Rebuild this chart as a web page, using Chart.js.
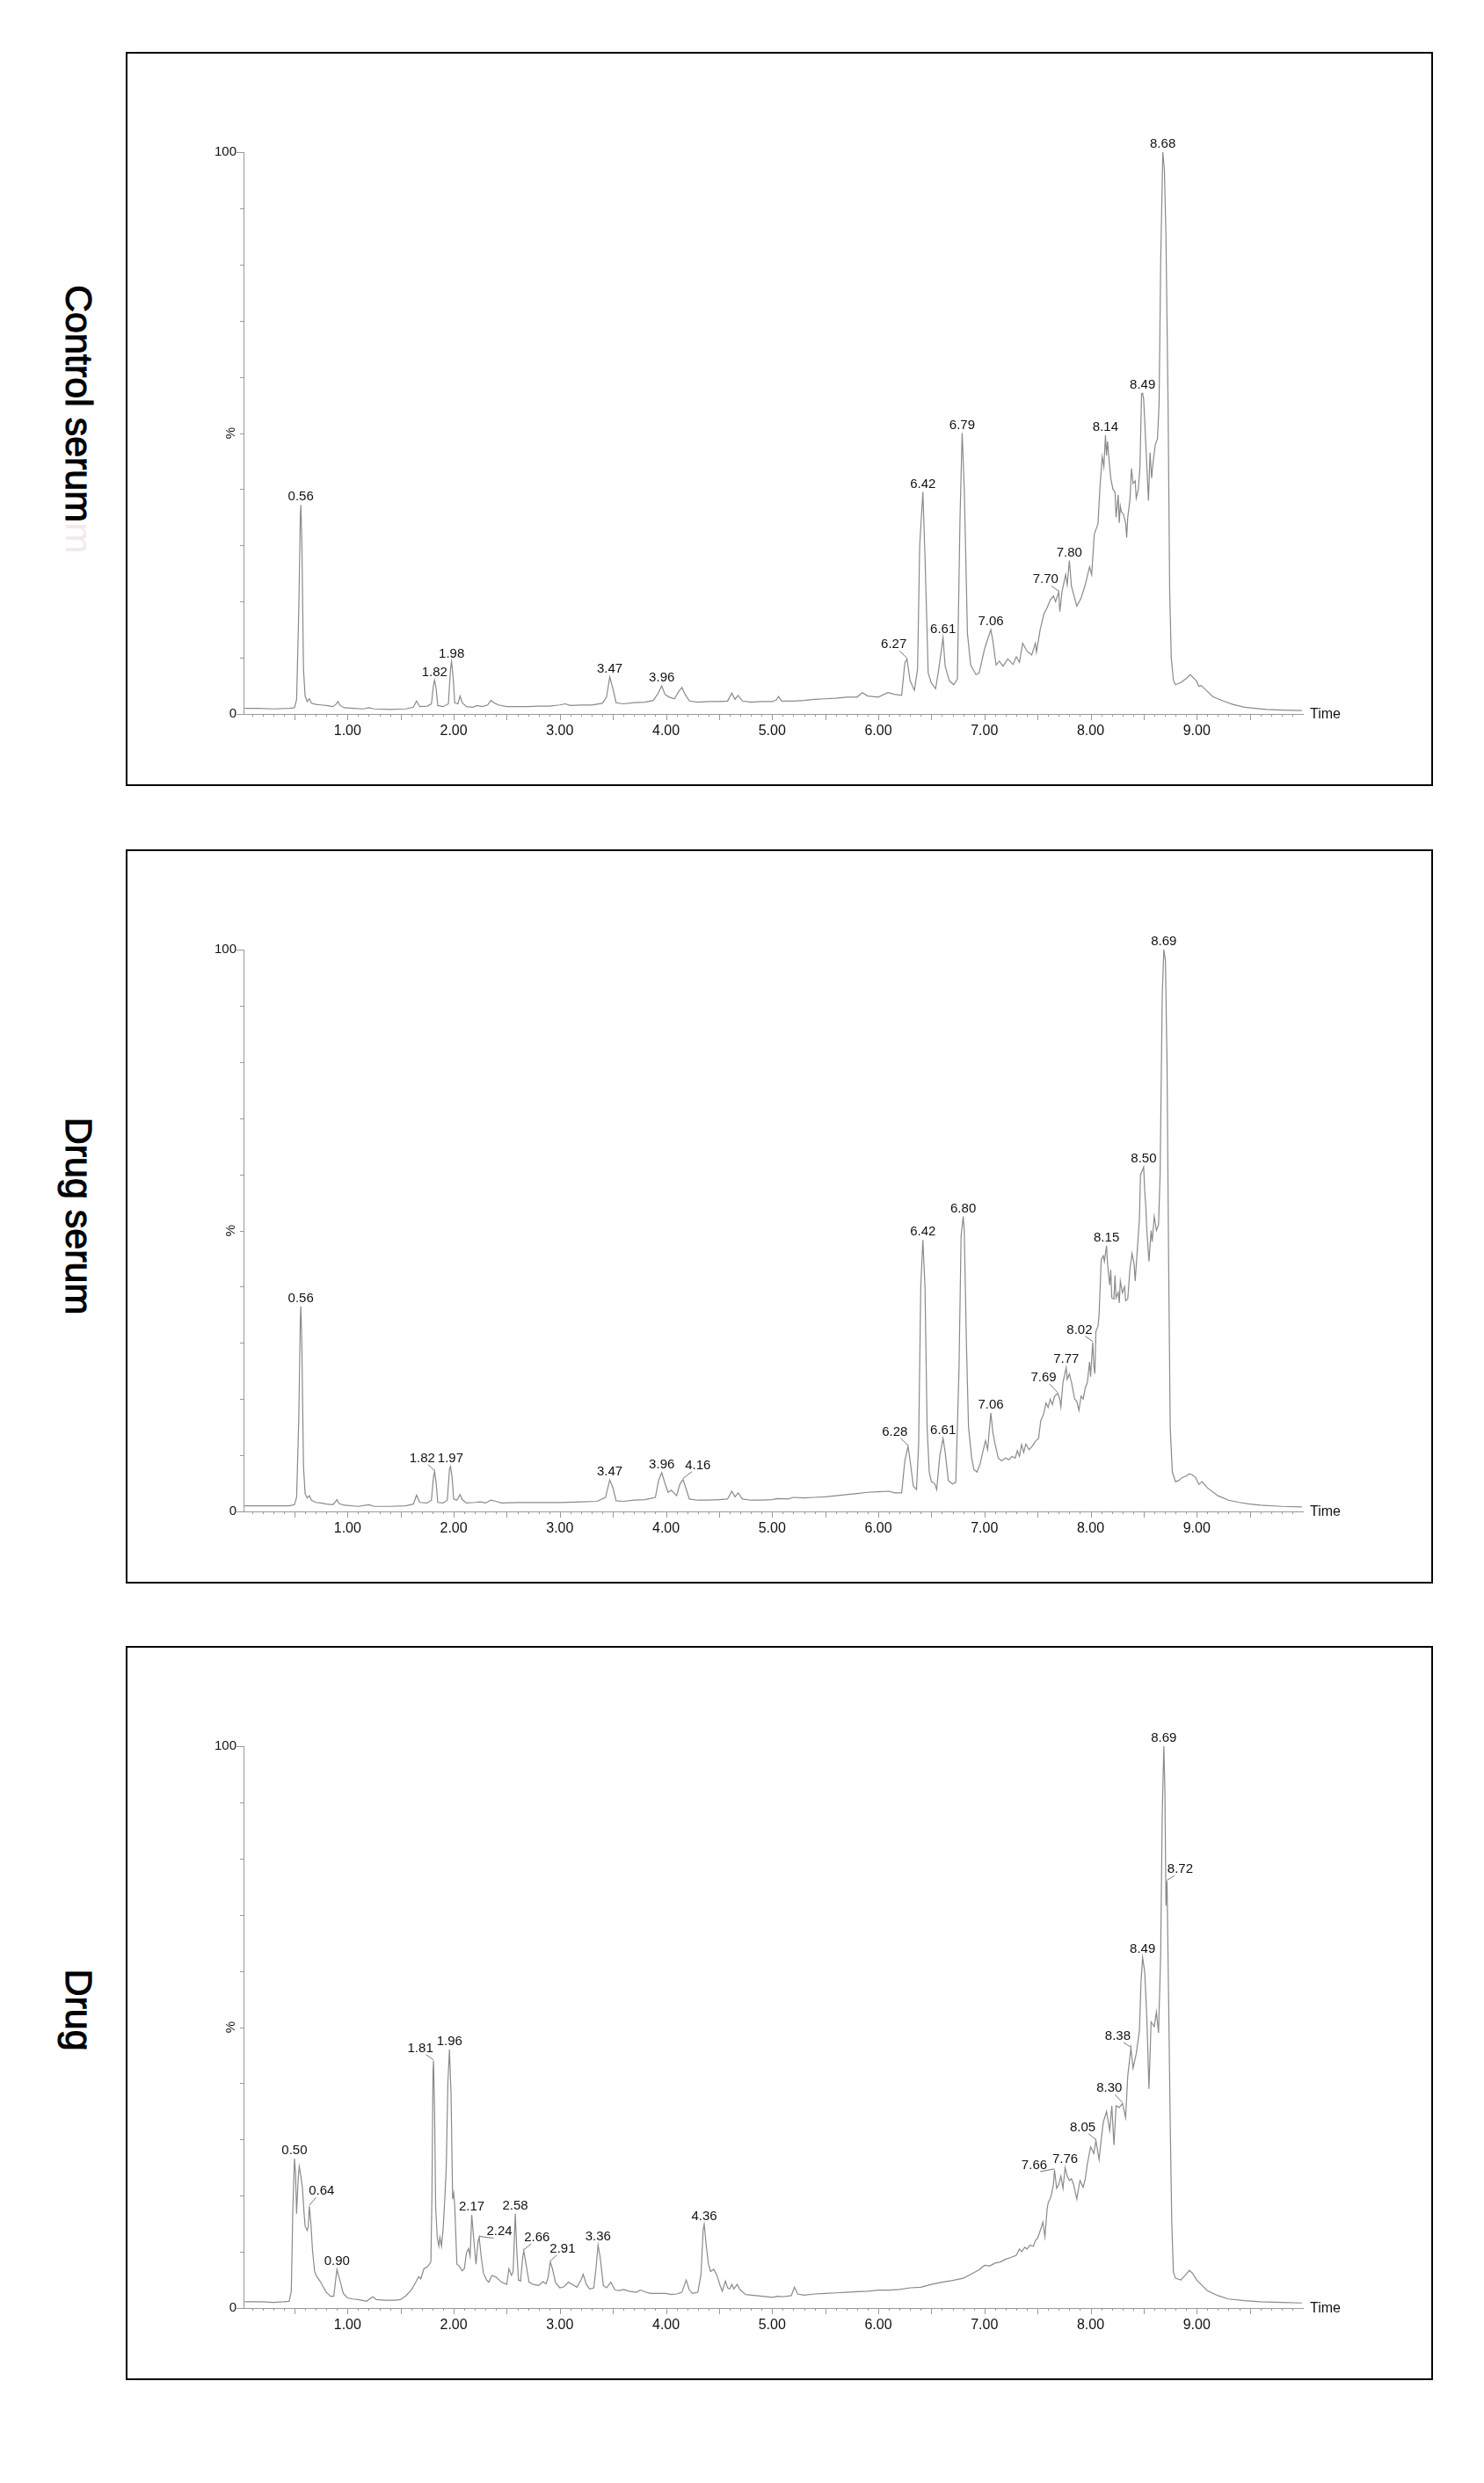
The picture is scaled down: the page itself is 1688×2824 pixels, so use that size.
<!DOCTYPE html>
<html>
<head>
<meta charset="utf-8">
<script src="https://cdn.jsdelivr.net/npm/chart.js@4.4.0/dist/chart.umd.min.js"></script>
<style>
  body { margin: 0; background: #fff; width: 1688px; height: 2824px; position: relative; overflow: hidden;
         font-family: "Liberation Sans", Arial, sans-serif; }
  .box { position: absolute; left: 143px; width: 1483px; height: 831px; border: 2px solid #000; }
  .box canvas { display: block; }
  .side { position: absolute; left: 89px; font-size: 43px; line-height: 1; white-space: nowrap; color: #000;
          -webkit-text-stroke: 1.1px #000; transform: translate(-50%, -50%) rotate(90deg); }
  .ghost { color: #f3e9ea; -webkit-text-stroke: 0; }
</style>
</head>
<body>
<div class="side" style="top:477px">Control serum<span class="ghost">m</span></div>
<div class="side" style="top:1383px">Drug serum</div>
<div class="side" style="top:2286px">Drug</div>

<div class="box" style="top:59px"><canvas id="c1" width="1483" height="831"></canvas></div>
<div class="box" style="top:966px"><canvas id="c2" width="1483" height="831"></canvas></div>
<div class="box" style="top:1872px"><canvas id="c3" width="1483" height="831"></canvas></div>

<script>
// retention time (min), relative intensity (%)
const controlSerum = [[0.03,1.0],[0.15,1.0],[0.3,0.9],[0.45,1.0],[0.5,1.1],[0.52,2.5],[0.54,18],[0.555,35],[0.56,37.2],[0.57,30],[0.585,8],[0.6,3.2],[0.62,2.2],[0.64,2.7],[0.66,1.9],[0.7,1.7],[0.75,1.6],[0.8,1.5],[0.86,1.3],[0.89,1.7],[0.91,2.2],[0.93,1.5],[0.97,1.1],[1.05,1.0],[1.15,0.9],[1.2,1.1],[1.25,0.9],[1.4,0.8],[1.55,0.9],[1.62,1.2],[1.65,2.3],[1.68,1.3],[1.75,1.4],[1.79,1.8],[1.81,5.2],[1.82,6.0],[1.835,4.5],[1.85,1.5],[1.9,1.3],[1.95,1.8],[1.97,8.0],[1.98,9.3],[1.995,6.5],[2.01,2.0],[2.04,1.8],[2.06,3.2],[2.08,2.0],[2.12,1.3],[2.18,1.2],[2.22,1.5],[2.27,1.3],[2.32,1.6],[2.35,2.4],[2.38,2.0],[2.42,1.6],[2.5,1.3],[2.6,1.3],[2.7,1.3],[2.8,1.4],[2.9,1.4],[3.0,1.6],[3.05,1.8],[3.1,1.5],[3.2,1.6],[3.3,1.6],[3.4,1.9],[3.44,3.0],[3.47,6.6],[3.5,4.5],[3.53,2.0],[3.6,1.8],[3.7,2.0],[3.8,2.1],[3.88,2.4],[3.93,3.8],[3.96,5.0],[3.99,3.5],[4.03,3.0],[4.08,2.7],[4.12,4.0],[4.15,4.7],[4.18,3.5],[4.22,2.3],[4.3,2.1],[4.4,2.2],[4.5,2.2],[4.58,2.3],[4.62,3.7],[4.65,2.6],[4.68,3.3],[4.72,2.3],[4.8,2.1],[4.9,2.2],[5.0,2.2],[5.04,2.5],[5.06,3.1],[5.09,2.3],[5.2,2.3],[5.3,2.4],[5.4,2.6],[5.5,2.7],[5.6,2.8],[5.7,3.0],[5.8,3.0],[5.85,3.8],[5.9,3.2],[6.0,3.0],[6.09,3.8],[6.15,3.5],[6.22,3.3],[6.25,9.1],[6.27,9.8],[6.3,5.9],[6.34,4.2],[6.37,8],[6.39,30],[6.42,39.5],[6.44,28],[6.47,7.3],[6.5,5.5],[6.54,4.5],[6.57,8],[6.61,13.6],[6.63,8.5],[6.67,5.9],[6.71,5.2],[6.745,6.2],[6.77,35],[6.79,50],[6.81,40],[6.84,14.3],[6.87,8.7],[6.92,7.0],[6.95,7.3],[7.0,11.5],[7.06,15],[7.08,12.9],[7.11,8.7],[7.14,9.4],[7.175,8.5],[7.22,9.8],[7.27,8.8],[7.3,10.2],[7.33,9.2],[7.36,12.6],[7.4,11.2],[7.445,10.5],[7.48,12.6],[7.49,11],[7.525,15],[7.56,17.8],[7.59,18.9],[7.62,20.3],[7.65,21],[7.67,20],[7.7,21.7],[7.71,18.2],[7.73,21.7],[7.765,24.8],[7.78,23],[7.8,27.3],[7.82,22.7],[7.84,21.3],[7.87,19.2],[7.91,20.6],[7.95,23],[7.99,26.2],[8.01,24.8],[8.035,32],[8.07,33.9],[8.09,40.9],[8.11,45.8],[8.125,44],[8.14,49.6],[8.15,46],[8.16,48.5],[8.17,46],[8.19,42],[8.21,40],[8.23,39.5],[8.24,35],[8.26,39],[8.27,34],[8.28,37],[8.29,36],[8.31,35.5],[8.33,34],[8.34,31.4],[8.35,35],[8.37,38],[8.385,43.7],[8.4,41],[8.42,41.5],[8.43,38.4],[8.45,40],[8.465,44],[8.48,57],[8.49,57.1],[8.5,56],[8.52,48],[8.545,38],[8.56,46.5],[8.575,42],[8.59,45],[8.61,48],[8.63,49],[8.645,55],[8.66,80],[8.68,100],[8.695,97],[8.71,85],[8.73,55],[8.745,22],[8.76,10],[8.78,6],[8.8,5.2],[8.85,5.6],[8.9,6.3],[8.94,7.0],[8.97,6.4],[9.0,5.8],[9.02,4.9],[9.04,5.1],[9.1,4.0],[9.15,3.1],[9.25,2.3],[9.34,1.7],[9.45,1.2],[9.55,1.0],[9.66,0.8],[9.8,0.7],[9.99,0.6]];

const drugSerum = [[0.03,1.0],[0.15,1.0],[0.3,1.0],[0.45,1.0],[0.5,1.2],[0.52,2.5],[0.54,16],[0.555,34],[0.56,36.5],[0.57,29],[0.585,8],[0.6,3.2],[0.62,2.4],[0.64,2.8],[0.66,2.0],[0.7,1.6],[0.75,1.5],[0.8,1.3],[0.86,1.2],[0.88,1.6],[0.9,2.1],[0.92,1.4],[0.97,1.1],[1.1,0.9],[1.2,1.2],[1.25,0.9],[1.4,0.9],[1.55,1.0],[1.62,1.3],[1.65,2.9],[1.68,1.6],[1.75,1.5],[1.79,2.0],[1.81,6.2],[1.82,7.1],[1.835,5.0],[1.85,1.6],[1.9,1.5],[1.94,2.0],[1.96,7.5],[1.97,8.0],[1.985,6.0],[2.0,2.2],[2.03,2.0],[2.06,3.0],[2.08,2.1],[2.12,1.5],[2.2,1.6],[2.25,1.7],[2.3,1.5],[2.35,2.0],[2.4,1.8],[2.45,1.5],[2.6,1.6],[2.8,1.6],[3.0,1.6],[3.2,1.7],[3.35,1.8],[3.43,2.5],[3.47,5.6],[3.5,4.2],[3.53,1.9],[3.6,1.8],[3.7,2.0],[3.8,2.1],[3.85,2.3],[3.9,2.5],[3.93,5.5],[3.96,6.9],[3.99,5.0],[4.02,3.4],[4.05,3.8],[4.08,3.2],[4.1,2.8],[4.13,4.8],[4.16,5.7],[4.19,4.0],[4.22,2.2],[4.3,2.0],[4.4,2.0],[4.5,2.1],[4.58,2.2],[4.62,3.6],[4.65,2.6],[4.68,3.3],[4.72,2.2],[4.8,2.0],[4.9,2.0],[5.0,2.1],[5.05,2.3],[5.15,2.2],[5.2,2.5],[5.3,2.4],[5.4,2.5],[5.5,2.6],[5.6,2.8],[5.7,3.0],[5.8,3.2],[5.9,3.4],[6.0,3.5],[6.1,3.6],[6.15,3.3],[6.22,3.3],[6.25,9],[6.28,11.6],[6.3,9],[6.33,4.5],[6.36,3.9],[6.38,12],[6.4,40],[6.42,48.3],[6.44,40],[6.46,15],[6.48,7],[6.5,5.3],[6.53,5.0],[6.55,3.9],[6.58,10],[6.61,13],[6.63,10.5],[6.66,5.5],[6.7,4.9],[6.73,5.2],[6.76,25],[6.78,49],[6.8,52.5],[6.81,50],[6.83,30],[6.85,15],[6.88,9.5],[6.9,7.5],[6.93,7.0],[6.96,8.5],[6.99,11],[7.01,12.6],[7.03,11],[7.06,17.5],[7.08,14],[7.1,12],[7.13,9.5],[7.16,9.0],[7.2,9.5],[7.23,9.2],[7.26,9.8],[7.29,9.5],[7.31,10.8],[7.33,9.8],[7.35,11.9],[7.37,10.5],[7.39,12],[7.42,11],[7.45,11.6],[7.48,12.5],[7.51,13],[7.53,16.1],[7.56,17.5],[7.58,19.3],[7.6,18.5],[7.62,20],[7.64,19],[7.66,20.5],[7.69,21],[7.71,20],[7.72,18.6],[7.74,23],[7.77,25.6],[7.78,23.5],[7.8,24.5],[7.82,23],[7.85,20],[7.87,19.6],[7.89,18],[7.91,20.5],[7.93,20],[7.95,22],[7.97,23],[7.99,26.6],[8.0,24],[8.02,30.1],[8.03,26],[8.04,24.5],[8.05,32],[8.07,33],[8.08,35],[8.1,44.8],[8.12,45.5],[8.13,44.5],[8.15,47.3],[8.16,44],[8.18,40.3],[8.19,43],[8.2,38],[8.22,37.8],[8.23,42],[8.24,38],[8.26,39],[8.27,37.1],[8.28,41],[8.3,38.9],[8.32,40],[8.33,37.5],[8.35,37.8],[8.37,43],[8.39,45.9],[8.41,44],[8.42,41],[8.44,46.6],[8.46,52],[8.47,59.9],[8.5,61.3],[8.51,57],[8.52,54.3],[8.53,50],[8.55,44.5],[8.57,50],[8.58,48],[8.6,52.5],[8.62,50],[8.64,51],[8.655,60],[8.675,92],[8.69,100],[8.705,98],[8.72,80],[8.735,45],[8.75,15],[8.77,7],[8.8,5.3],[8.83,5.5],[8.86,6.0],[8.9,6.3],[8.93,6.7],[8.96,6.5],[8.99,6.0],[9.02,4.8],[9.05,5.3],[9.1,4.2],[9.2,2.8],[9.3,2.0],[9.4,1.6],[9.5,1.3],[9.6,1.1],[9.8,0.9],[9.99,0.8]];

const drug = [[0.03,1.1],[0.2,1.1],[0.3,1.0],[0.4,1.1],[0.45,1.2],[0.47,3],[0.485,18],[0.5,26.6],[0.51,24],[0.52,16.8],[0.535,23],[0.545,25.2],[0.56,23.5],[0.575,21.4],[0.59,17],[0.6,14.6],[0.62,13.8],[0.63,14.5],[0.64,18.1],[0.655,15],[0.67,10.2],[0.69,6.5],[0.71,5.6],[0.74,4.8],[0.77,3.8],[0.8,2.8],[0.84,2.1],[0.87,2.1],[0.885,4.5],[0.9,6.9],[0.915,5.8],[0.93,4.8],[0.96,2.6],[1.0,1.8],[1.05,1.6],[1.1,1.5],[1.18,1.2],[1.22,1.8],[1.24,2.0],[1.27,1.5],[1.35,1.4],[1.45,1.4],[1.5,1.5],[1.55,2.2],[1.6,3.2],[1.64,4.5],[1.67,5.6],[1.69,5.2],[1.72,7.0],[1.75,7.3],[1.77,7.8],[1.785,8.2],[1.795,20],[1.805,42],[1.81,44],[1.82,35],[1.83,18],[1.845,12.6],[1.86,11],[1.87,12.6],[1.885,11],[1.9,14],[1.915,19],[1.93,25],[1.945,40],[1.96,46],[1.975,38],[1.99,19.4],[2.0,20.5],[2.01,18.2],[2.03,7.8],[2.05,7.5],[2.08,6.6],[2.1,7.0],[2.12,9.8],[2.14,10.6],[2.155,9.2],[2.17,16.6],[2.19,12],[2.21,7.8],[2.23,12],[2.24,12.6],[2.26,9],[2.28,6.2],[2.31,5.0],[2.33,4.6],[2.36,5.8],[2.4,5.5],[2.45,4.6],[2.5,4.2],[2.52,7],[2.545,5.8],[2.56,6.5],[2.58,16.8],[2.595,10],[2.61,5.0],[2.63,4.8],[2.65,9],[2.66,10.2],[2.68,8],[2.71,4.6],[2.75,4.2],[2.8,4.0],[2.84,4.7],[2.87,4.3],[2.89,5.5],[2.91,8.2],[2.93,7],[2.96,4.5],[3.0,3.6],[3.04,3.8],[3.08,4.6],[3.12,4.2],[3.16,3.7],[3.2,5.0],[3.22,6.0],[3.25,4.2],[3.28,3.4],[3.32,3.6],[3.34,7],[3.36,11.2],[3.38,9],[3.41,4],[3.44,3.6],[3.48,4.6],[3.52,3.2],[3.56,3.1],[3.6,3.3],[3.65,3.0],[3.72,2.8],[3.76,3.2],[3.8,2.9],[3.85,2.6],[3.9,2.6],[4.0,2.6],[4.05,2.4],[4.1,2.5],[4.15,2.8],[4.19,5.0],[4.22,3.2],[4.25,2.6],[4.3,2.8],[4.33,6],[4.35,14],[4.36,14.9],[4.38,11],[4.4,7.8],[4.42,6.5],[4.45,6.9],[4.48,5.8],[4.51,4.0],[4.53,3.0],[4.56,4.8],[4.58,3.6],[4.6,3.4],[4.62,4.2],[4.64,3.4],[4.67,4.2],[4.7,3.2],[4.75,2.4],[4.85,2.2],[4.95,2.0],[5.0,1.9],[5.05,2.1],[5.1,2.0],[5.18,2.2],[5.21,3.7],[5.24,2.5],[5.3,2.3],[5.4,2.5],[5.5,2.6],[5.6,2.7],[5.7,2.8],[5.8,2.9],[5.9,3.0],[6.0,3.2],[6.1,3.2],[6.2,3.3],[6.3,3.6],[6.4,3.7],[6.5,4.2],[6.6,4.6],[6.7,4.9],[6.8,5.3],[6.85,5.8],[6.9,6.3],[6.95,6.8],[7.0,7.6],[7.05,7.5],[7.1,8.0],[7.15,8.2],[7.2,8.7],[7.25,9.0],[7.3,9.4],[7.33,10.5],[7.35,10.0],[7.38,10.8],[7.4,10.5],[7.43,11.2],[7.46,11.0],[7.48,12.0],[7.5,12.4],[7.53,14],[7.55,15.3],[7.57,12.7],[7.59,17.5],[7.6,18.7],[7.62,19.5],[7.63,20.1],[7.65,22],[7.66,24.6],[7.68,21.3],[7.7,22],[7.72,23.5],[7.74,21.3],[7.76,25],[7.78,23.5],[7.8,22.7],[7.82,23],[7.84,22],[7.87,19.4],[7.9,22.7],[7.93,21.5],[7.95,23],[7.97,25.7],[8.0,28.7],[8.03,27.5],[8.05,29.8],[8.08,26.4],[8.1,30],[8.12,33.1],[8.15,35],[8.18,31.6],[8.2,36],[8.22,29],[8.24,36],[8.27,35.7],[8.3,36.4],[8.33,33.9],[8.35,41.3],[8.38,46.3],[8.4,42.7],[8.43,45.3],[8.46,49.4],[8.475,58],[8.49,62.4],[8.51,59.8],[8.53,51.6],[8.55,39],[8.57,50.9],[8.6,50.1],[8.62,52.7],[8.64,49],[8.66,62.7],[8.675,88],[8.69,100],[8.7,92],[8.71,71.6],[8.72,76],[8.735,55],[8.75,33],[8.765,15],[8.78,6.4],[8.8,5.3],[8.85,5.0],[8.9,6.0],[8.93,6.7],[8.96,6.2],[9.0,5.0],[9.05,4.0],[9.1,3.1],[9.2,2.2],[9.3,1.6],[9.45,1.3],[9.6,1.1],[9.8,1.0],[9.99,0.9]];

// labelled peaks
const controlPeaks = [0.56, 1.82, 1.98, 3.47, 3.96, 6.27, 6.42, 6.61, 6.79, 7.06, 7.70, 7.80, 8.14, 8.49, 8.68];
const drugSerumPeaks = [0.56, 1.82, 1.97, 3.47, 3.96, 4.16, 6.28, 6.42, 6.61, 6.80, 7.06, 7.69, 7.77, 8.02, 8.15, 8.50, 8.69];
const drugPeaks = [0.50, 0.64, 0.90, 1.81, 1.96, 2.17, 2.24, 2.58, 2.66, 2.91, 3.36, 4.36, 7.66, 7.76, 8.05, 8.30, 8.38, 8.49, 8.69, 8.72];

// axis ticks
const xTicks = [1, 2, 3, 4, 5, 6, 7, 8, 9];
const yTicks = [0, 100];

// label displacement (px) for labels drawn with a leader line
const labelShift = {
  c1: { '6.27': [-15, -7], '7.70': [-15, -5] },
  c2: { '1.82': [-14, -6], '4.16': [17, -7], '6.28': [-15, -7], '7.69': [-16, -9], '8.02': [-15, -5] },
  c3: { '0.64': [14, -8], '1.81': [-15, -5], '2.24': [23, 3], '2.66': [15, -6], '2.91': [14, -6],
        '7.66': [-23, 4], '8.05': [-15, -6], '8.30': [-15, -8], '8.38': [-15, -4], '8.72': [15, -4] }
};

const FONT = '"Liberation Sans", Arial, sans-serif';

const peakLabels = {
  id: 'peakLabels',
  afterDatasetsDraw(chart, args, opts) {
    const { ctx } = chart;
    const xs = chart.scales.x, ys = chart.scales.y;
    const pts = chart.data.datasets[0].data;
    ctx.save();
    ctx.font = '15px ' + FONT;
    ctx.fillStyle = '#111';
    ctx.strokeStyle = '#777';
    ctx.lineWidth = 1;
    ctx.textAlign = 'center';
    ctx.textBaseline = 'alphabetic';
    opts.peaks.forEach(t => {
      const text = t.toFixed(2);
      const p = pts.reduce((a, b) => Math.abs(b.x - t) < Math.abs(a.x - t) ? b : a);
      const px = xs.getPixelForValue(p.x), py = ys.getPixelForValue(p.y);
      const [dx, dy] = opts.shift[text] || [0, 0];
      const cx = px + dx, by = py - 5 + dy;
      ctx.fillText(text, cx, by);
      if (dx) {
        const w = ctx.measureText(text).width;
        const sx = dx < 0 ? cx + w / 2 - 8 : cx - w / 2 + 8;
        ctx.beginPath();
        ctx.moveTo(sx, by + 3);
        ctx.lineTo(px, py - 1);
        ctx.stroke();
      }
    });
    ctx.restore();
  }
};

const axisDecor = {
  id: 'axisDecor',
  afterDraw(chart) {
    const { ctx, chartArea: a } = chart;
    const xs = chart.scales.x, ys = chart.scales.y;
    ctx.save();
    ctx.strokeStyle = '#999';
    ctx.lineWidth = 1;
    ctx.beginPath();
    for (let i = 1; i < 100; i++) {
      const px = Math.round(xs.getPixelForValue(i / 10)) + 0.5;
      const len = i % 5 === 0 ? 7 : 3;
      ctx.moveTo(px, a.bottom);
      ctx.lineTo(px, a.bottom + len);
    }
    for (let v = 0; v <= 100; v += 10) {
      const py = Math.round(ys.getPixelForValue(v)) + 0.5;
      const len = (v === 0 || v === 100) ? 8 : 4;
      ctx.moveTo(a.left - len, py);
      ctx.lineTo(a.left, py);
    }
    ctx.stroke();

    ctx.fillStyle = '#111';
    ctx.font = '16px ' + FONT;
    ctx.textAlign = 'left';
    ctx.textBaseline = 'middle';
    ctx.fillText('Time', a.right + 8, a.bottom + 1);

    ctx.font = '15px ' + FONT;
    ctx.translate(a.left - 14, ys.getPixelForValue(50));
    ctx.rotate(-Math.PI / 2);
    ctx.textAlign = 'center';
    ctx.fillText('%', 0, 0);
    ctx.restore();
  }
};

function makeChart(id, trace, peaks) {
  return new Chart(document.getElementById(id), {
    type: 'line',
    data: {
      datasets: [{
        data: trace.map(([t, v]) => ({ x: t, y: v })),
        borderColor: '#8a8a8a',
        borderWidth: 1.2,
        pointRadius: 0,
        tension: 0,
        fill: false
      }]
    },
    options: {
      responsive: false,
      animation: false,
      layout: { padding: { left: 72, right: 146, top: 112, bottom: 40 } },
      scales: {
        x: {
          type: 'linear',
          min: 0.02,
          max: 10.0,
          afterBuildTicks: s => { s.ticks = xTicks.map(v => ({ value: v })); },
          afterFit: s => { s.height = 40; },
          grid: { drawOnChartArea: false, drawTicks: false, color: 'transparent' },
          border: { display: true, color: '#999', width: 1 },
          ticks: { padding: 10, color: '#111', font: { size: 16, family: FONT },
                   maxRotation: 0, autoSkip: false, callback: v => v.toFixed(2) }
        },
        y: {
          min: 0,
          max: 100,
          afterBuildTicks: s => { s.ticks = yTicks.map(v => ({ value: v })); },
          afterFit: s => { s.width = 60; },
          grid: { drawOnChartArea: false, drawTicks: false, color: 'transparent' },
          border: { display: true, color: '#999', width: 1 },
          ticks: { padding: 8, color: '#111', font: { size: 15, family: FONT }, callback: v => String(v) }
        }
      },
      plugins: {
        legend: { display: false },
        tooltip: { enabled: false },
        peakLabels: { peaks: peaks, shift: labelShift[id] }
      }
    },
    plugins: [peakLabels, axisDecor]
  });
}

makeChart('c1', controlSerum, controlPeaks);
makeChart('c2', drugSerum, drugSerumPeaks);
makeChart('c3', drug, drugPeaks);
</script>
</body>
</html>
